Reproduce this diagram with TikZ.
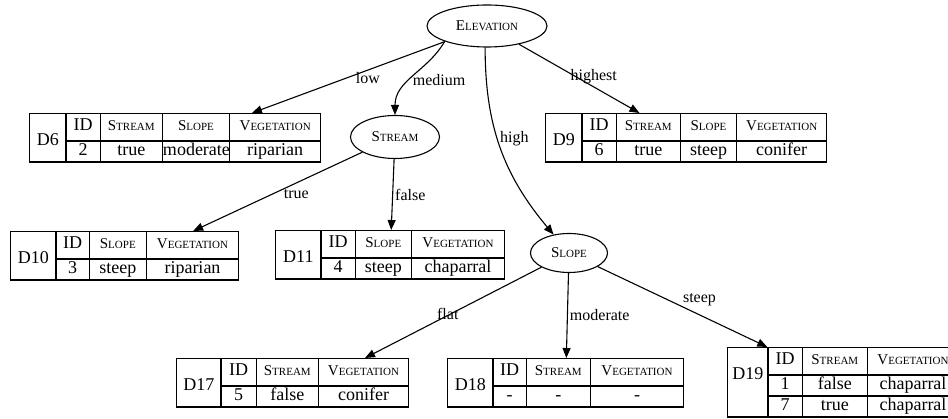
\documentclass[tikz,border=0pt]{standalone}
\usepackage{fontspec}
\setmainfont{Liberation Serif}
\usepackage{array}
\usetikzlibrary{shapes.geometric,arrows.meta}
\newcolumntype{C}[1]{>{\centering\arraybackslash}p{#1}}
\setlength\tabcolsep{0pt}
\setlength\arrayrulewidth{1.2pt}
\newcommand\hstrut{\rule[-10pt]{0pt}{26pt}}
\newcommand\dstrut{\rule[-6pt]{0pt}{21pt}}
\newcommand\dlabel[1]{\smash{\raisebox{-15pt}{#1}}}
\newcommand\capword[2]{{\fontsize{15}{17}\selectfont #1}{\fontsize{11}{13}\selectfont #2}}

\begin{document}
\begin{tikzpicture}[x=1pt,y=1pt,
    cls/.style={ellipse,draw,line width=1.1pt,inner sep=0pt},
    tbl/.style={anchor=north west,inner sep=0pt,font=\fontsize{18}{20}\selectfont},
    lbl/.style={font=\fontsize{16}{18}\selectfont,inner sep=2pt},
    branch/.style={-{Triangle[length=10pt,width=8pt]},line width=1.1pt}]
  \useasboundingbox (0,0) rectangle (948,419);
  % attribute tests
  \node[cls,minimum width=120pt,minimum height=42pt] (elevation) at (487,393) {\capword{E}{LEVATION}};
  \node[cls,minimum width=89pt,minimum height=43pt] (stream) at (395,282) {\capword{S}{TREAM}};
  \node[cls,minimum width=77pt,minimum height=39pt] (slope) at (569,166) {\capword{S}{LOPE}};
  % leaf tables
  \node[tbl] (d6) at (29,306) {\begin{tabular}{|C{35pt}|C{33pt}|C{61pt}|C{66pt}|C{90pt}|}\hline
    \hstrut\dlabel{D6} & ID & \capword{S}{TREAM} & \capword{S}{LOPE} & \capword{V}{EGETATION} \\ \cline{2-5}
    \dstrut & 2 & true & moderate & riparian \\ \hline
  \end{tabular}};
  \node[tbl] (d9) at (545,306) {\begin{tabular}{|C{35pt}|C{33pt}|C{63pt}|C{55pt}|C{89pt}|}\hline
    \hstrut\dlabel{D9} & ID & \capword{S}{TREAM} & \capword{S}{LOPE} & \capword{V}{EGETATION} \\ \cline{2-5}
    \dstrut & 6 & true & steep & conifer \\ \hline
  \end{tabular}};
  \node[tbl] (d10) at (10,188) {\begin{tabular}{|C{44pt}|C{32pt}|C{56pt}|C{91pt}|}\hline
    \hstrut\dlabel{D10} & ID & \capword{S}{LOPE} & \capword{V}{EGETATION} \\ \cline{2-4}
    \dstrut & 3 & steep & riparian \\ \hline
  \end{tabular}};
  \node[tbl] (d11) at (275,189) {\begin{tabular}{|C{44pt}|C{33pt}|C{55pt}|C{92pt}|}\hline
    \hstrut\dlabel{D11} & ID & \capword{S}{LOPE} & \capword{V}{EGETATION} \\ \cline{2-4}
    \dstrut & 4 & steep & chaparral \\ \hline
  \end{tabular}};
  \node[tbl] (d17) at (176,61) {\begin{tabular}{|C{43pt}|C{34pt}|C{61pt}|C{89pt}|}\hline
    \hstrut\dlabel{D17} & ID & \capword{S}{TREAM} & \capword{V}{EGETATION} \\ \cline{2-4}
    \dstrut & 5 & false & conifer \\ \hline
  \end{tabular}};
  \node[tbl] (d18) at (447,61) {\begin{tabular}{|C{44pt}|C{32pt}|C{63pt}|C{92pt}|}\hline
    \hstrut\dlabel{D18} & ID & \capword{S}{TREAM} & \capword{V}{EGETATION} \\ \cline{2-4}
    \dstrut & - & - & - \\ \hline
  \end{tabular}};
  \node[tbl] (d19) at (727,72) {\begin{tabular}{|C{39pt}|C{33pt}|C{64pt}|C{90pt}|}\hline
    \hstrut\dlabel{D19} & ID & \capword{S}{TREAM} & \capword{V}{EGETATION} \\ \cline{2-4}
    \dstrut & 1 & false & chaparral \\ \cline{2-4}
    \dstrut & 7 & true & chaparral \\ \hline
  \end{tabular}};
  % branches
  \draw[branch] (elevation) -- (d6.18) node[lbl,pos=0.4,below] {low};
  \draw[branch] (elevation.-160) to[out=-120,in=90] node[lbl,pos=0.55,right] {medium} (stream);
  \draw[branch] (elevation.-95) to[out=-90,in=130] node[lbl,pos=0.45,right] {high} (slope);
  \draw[branch] (elevation) -- (d9.152) node[lbl,pos=0.62,above] {highest};
  \draw[branch] (stream) -- (d10.20) node[lbl,pos=0.39,below=4pt] {true};
  \draw[branch] (stream) -- (d11) node[lbl,midway,right] {false};
  \draw[branch] (slope) -- (d17.19) node[lbl,pos=0.6,anchor=south west,inner sep=1pt] {flat};
  \draw[branch] (slope) -- (d18) node[lbl,midway,right] {moderate};
  \draw[branch] (slope) -- (d19.155) node[lbl,pos=0.5,anchor=south west,inner sep=0pt] {steep};
\end{tikzpicture}
\end{document}
